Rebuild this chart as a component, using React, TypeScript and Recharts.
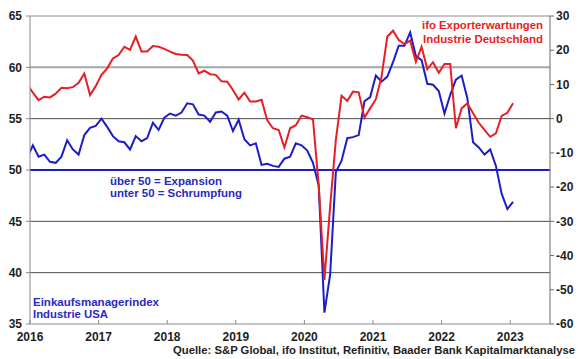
import { LineChart, Line, XAxis, YAxis, ReferenceLine } from "recharts";

// Monthly values, Dec 2015 .. Jan 2023
// S&P Global US Manufacturing PMI (left axis)
const pmiUsa = [
  51.2,
  52.4, 51.3, 51.5, 50.8, 50.7, 51.3, 52.9, 52.0, 51.5, 53.4, 54.1, 54.3,
  55.0, 54.2, 53.3, 52.8, 52.7, 52.0, 53.3, 52.8, 53.1, 54.6, 53.9, 55.1,
  55.5, 55.3, 55.6, 56.5, 56.4, 55.4, 55.3, 54.7, 55.6, 55.7, 55.3, 53.8,
  54.9, 53.0, 52.4, 52.6, 50.5, 50.6, 50.4, 50.3, 51.1, 51.3, 52.6, 52.4,
  51.9, 50.7, 48.5, 36.1, 39.8, 49.8, 50.9, 53.1, 53.2, 53.4, 56.7, 57.1,
  59.2, 58.6, 59.1, 60.5, 62.1, 62.1, 63.4, 61.1, 60.7, 58.4, 58.3, 57.7,
  55.5, 57.3, 58.8, 59.2, 57.0, 52.7, 52.2, 51.5, 52.0, 50.4, 47.7, 46.2,
  46.9,
];

// ifo Exporterwartungen Industrie Deutschland (right axis)
const ifoExport = [
  10.0,
  7.6, 5.4, 6.4, 6.2, 7.3, 9.0, 8.9, 9.2, 10.5, 13.2, 6.9, 9.5,
  12.8, 14.7, 17.6, 18.6, 21.0, 20.1, 24.0, 19.6, 19.6, 21.2, 21.0, 20.4,
  19.6, 18.9, 18.7, 18.6, 17.0, 13.2, 14.0, 13.0, 12.8, 10.9, 10.8, 8.4,
  5.6, 7.6, 5.0, 5.0, 5.5, -0.5, -2.8, -3.3, -8.4, -2.8, -1.9, 0.9,
  0.4, -0.2, -19.4, -47.1, -25.7, -6.2, 6.7, 5.2, 7.9, 7.7, 0.3, 3.0,
  5.7, 12.3, 24.0, 25.7, 23.0, 21.8, 22.8, 16.6, 21.0, 14.5, 16.5, 13.4,
  16.0, 16.0, -2.8, 3.0, 4.5, 1.6, -1.2, -3.3, -5.3, -4.3, 0.8, 1.7,
  4.5,
];

const yearTicks = [2016, 2017, 2018, 2019, 2020, 2021, 2022, 2023];
const leftTicks = [35, 40, 45, 50, 55, 60, 65];
const rightTicks = [-60, -50, -40, -30, -20, -10, 0, 10, 20, 30];

// month labels "YYYY-MM" starting Dec 2015
const months = pmiUsa.map((_, i) => {
  const m = 11 + i;
  const y = 2015 + Math.floor(m / 12);
  return `${y}-${String((m % 12) + 1).padStart(2, "0")}`;
});

const toYear = (ym: string) => {
  const [y, m] = ym.split("-").map(Number);
  return y + (m - 0.5) / 12;
};

const data = months.map((ym, i) => ({
  t: toYear(ym),
  pmi: pmiUsa[i],
  ifo: ifoExport[i],
}));

const RED = "#e61e25";
const BLUE = "#1c1cc8";
const FONT = "'Liberation Sans', Arial, sans-serif";
const tickStyle = { fontSize: 12, fontWeight: 700, fill: "#1e1e1e", fontFamily: FONT };

export default function App() {
  return (
    <div style={{ position: "absolute", left: 0, top: 0, width: 580, height: 359, background: "#fff" }}>
      <LineChart
        width={580}
        height={359}
        data={data}
        margin={{ top: 16, right: 0, bottom: 0, left: 8 }}
      >
        <XAxis
          dataKey="t"
          type="number"
          domain={[2016, 2023.58]}
          allowDataOverflow
          ticks={yearTicks}
          height={35}
          stroke="#8a8a8a"
          tickSize={-4}
          tickMargin={12}
          tick={tickStyle}
        />
        <YAxis
          yAxisId="left"
          domain={[35, 65]}
          ticks={leftTicks}
          width={22}
          stroke="#8a8a8a"
          tickSize={4}
          tickMargin={4}
          tick={tickStyle}
        />
        <YAxis
          yAxisId="right"
          orientation="right"
          domain={[-60, 30]}
          ticks={rightTicks}
          width={30}
          stroke="#6a6a6a"
          tickSize={4}
          tickMargin={2}
          tick={tickStyle}
        />
        <ReferenceLine yAxisId="left" y={65} stroke="#8a8a8a" strokeWidth={1} />
        <ReferenceLine yAxisId="left" y={60} stroke="#a6a6a6" strokeWidth={2} />
        <ReferenceLine yAxisId="left" y={55} stroke="#4a4a4a" strokeWidth={1} />
        <ReferenceLine yAxisId="left" y={45} stroke="#4a4a4a" strokeWidth={1} />
        <ReferenceLine yAxisId="left" y={40} stroke="#4a4a4a" strokeWidth={1} />
        <ReferenceLine yAxisId="left" y={50} stroke={BLUE} strokeWidth={2} />
        <Line
          yAxisId="left"
          dataKey="pmi"
          type="linear"
          stroke={BLUE}
          strokeWidth={2}
          dot={false}
          isAnimationActive={false}
        />
        <Line
          yAxisId="right"
          dataKey="ifo"
          type="linear"
          stroke={RED}
          strokeWidth={2}
          dot={false}
          isAnimationActive={false}
        />
      </LineChart>
      <svg
        width={580}
        height={359}
        style={{ position: "absolute", left: 0, top: 0, pointerEvents: "none" }}
        fontFamily={FONT}
        fontWeight={700}
        fontSize={11.5}
      >
        <text x={543} y={29} fill={RED} textAnchor="end" textLength={121} lengthAdjust="spacingAndGlyphs">
          ifo Exporterwartungen
        </text>
        <text x={543} y={42.5} fill={RED} textAnchor="end" textLength={120} lengthAdjust="spacingAndGlyphs">
          Industrie Deutschland
        </text>
        <text x={110} y={184.7} fill="#2a2ac0" textLength={112} lengthAdjust="spacingAndGlyphs">
          über 50 = Expansion
        </text>
        <text x={110} y={197.3} fill="#2a2ac0" textLength={132} lengthAdjust="spacingAndGlyphs">
          unter 50 = Schrumpfung
        </text>
        <text x={33} y={305.7} fill="#2a2ac0" textLength={126} lengthAdjust="spacingAndGlyphs">
          Einkaufsmanagerindex
        </text>
        <text x={33} y={318.3} fill="#2a2ac0" textLength={75} lengthAdjust="spacingAndGlyphs">
          Industrie USA
        </text>
        <text x={575} y={353.5} fontSize={11} fill="#1e1e1e" textAnchor="end" textLength={402} lengthAdjust="spacingAndGlyphs">
          Quelle: S&amp;P Global, ifo Institut, Refinitiv, Baader Bank Kapitalmarktanalyse
        </text>
      </svg>
    </div>
  );
}
